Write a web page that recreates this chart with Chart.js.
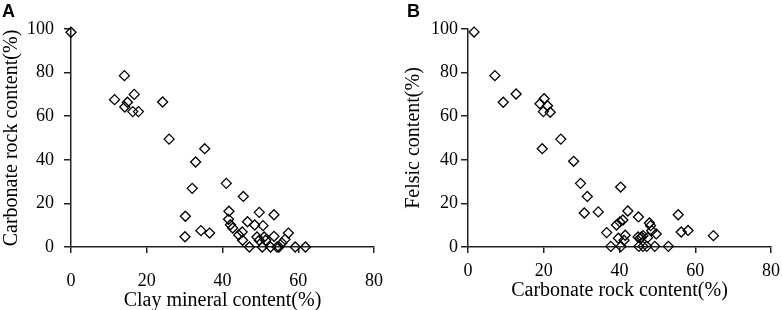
<!DOCTYPE html>
<html>
<head>
<meta charset="utf-8">
<script src="https://cdn.jsdelivr.net/npm/chart.js@4"></script>
<style>
  body { margin: 0; background: #fff; }
  .panel { position: absolute; top: 0; width: 391px; height: 310px; }
  #wrapA { left: 0; }
  #wrapB { left: 391px; }
</style>
</head>
<body>
<div class="panel" id="wrapA"><canvas id="chartA"></canvas></div>
<div class="panel" id="wrapB"><canvas id="chartB"></canvas></div>
<script>
// panel A: clay mineral vs carbonate rock
const clayA = [0, 14.1, 11.5, 16.7, 14.9, 14.2, 16.3, 17.8, 24.2, 25.9, 35.3, 32.9, 32.0, 30.2, 30.1, 34.3, 36.6,
    41.0, 45.5, 41.7, 41.6, 42.1, 42.7, 44.3, 45.2, 45.3, 47.1, 46.6, 48.5, 49.7, 50.7, 49.1, 49.7, 51.0, 50.5,
    51.4, 53.6, 53.6, 52.7, 54.4, 54.9, 55.7, 56.5, 57.4, 59.2, 61.9];
const carbonateA = [98.5, 78.6, 67.6, 70.0, 66.4, 64.2, 62.1, 62.1, 66.5, 49.5, 45.1, 39.0, 26.9, 14.1, 4.7, 7.5, 6.4,
    29.2, 23.2, 16.4, 12.7, 10.2, 8.7, 5.5, 6.9, 3.1, 0, 11.6, 10.1, 15.9, 9.8, 4.6, 3.1, 4.6, 0,
    3.1, 14.8, 4.9, 0, 0, 0, 1.8, 3.5, 6.4, 0, 0];

// panel B: carbonate rock vs felsic
const carbonateB = [1.6, 7.1, 9.3, 12.7, 19.0, 20.1, 21.0, 19.9, 21.7, 19.6, 24.5, 27.9, 29.7, 31.5, 30.7, 34.4, 36.6,
    37.7, 40.3, 42.2, 39.2, 40.1, 40.9, 39.7, 40.4, 41.2, 41.5, 45.0, 44.9, 45.5, 45.8, 46.2, 45.1, 46.2, 47.2,
    47.4, 47.9, 48.2, 48.5, 49.7, 49.3, 52.9, 55.5, 56.3, 58.1, 64.8];
const felsicB = [98.6, 78.6, 66.4, 70.2, 65.7, 68.0, 64.8, 62.1, 61.8, 45.1, 49.5, 39.3, 29.2, 23.2, 15.6, 16.1, 6.6,
    0.3, 27.5, 16.5, 10.1, 11.5, 12.4, 4.0, 0.3, 3.1, 5.4, 13.8, 4.6, 4.0, 4.6, 5.2, 0.3, 0.3, 0.3,
    4.3, 11.0, 9.8, 7.5, 6.0, 0.3, 0.3, 14.8, 6.9, 7.6, 5.2];

const xTicks = [0, 20, 40, 60, 80];
const yTicks = [0, 20, 40, 60, 80, 100];

const serif = 'Liberation Serif';
const axisColor = '#222';

const panelLetter = {
    id: 'panelLetter',
    afterDraw(chart, args, opts) {
        const ctx = chart.ctx;
        ctx.save();
        ctx.font = 'bold 18px "Liberation Sans"';
        ctx.fillStyle = '#000';
        ctx.textBaseline = 'alphabetic';
        ctx.fillText(opts.text, opts.x, 17);
        ctx.restore();
    }
};

function makeChart(id, xs, ys, cfg) {
    const points = xs.map((x, i) => ({ x: x, y: ys[i] }));
    return new Chart(document.getElementById(id), {
        type: 'scatter',
        data: {
            datasets: [{
                data: points,
                pointStyle: 'rectRot',
                pointRadius: 5,
                pointBorderWidth: 1.3,
                pointBorderColor: '#000',
                pointBackgroundColor: 'rgba(0,0,0,0)',
                clip: false
            }]
        },
        options: {
            responsive: true,
            maintainAspectRatio: false,
            animation: false,
            events: [],
            layout: { padding: { top: 29, left: cfg.padLeft, right: cfg.padRight, bottom: 0 } },
            plugins: {
                legend: { display: false },
                tooltip: { enabled: false },
                panelLetter: { text: cfg.letter, x: cfg.letterX }
            },
            scales: {
                x: {
                    type: 'linear',
                    min: 0, max: 80,
                    afterBuildTicks: s => { s.ticks = xTicks.map(v => ({ value: v })); },
                    afterFit: s => { s.height = 63; },
                    border: { display: true, color: axisColor, width: 1.5 },
                    grid: { display: true, drawOnChartArea: false, drawTicks: true, tickLength: 6, color: axisColor, lineWidth: 1.5 },
                    // tall line height pushes labels down without widening the right padding
                    ticks: { color: '#000', padding: 0, font: { family: serif, size: 18, lineHeight: cfg.xTickLH } },
                    title: {
                        display: true, text: cfg.xTitle, color: '#000',
                        padding: { top: 0, bottom: cfg.xTitlePad },
                        font: { family: serif, size: 20 }
                    }
                },
                y: {
                    type: 'linear',
                    min: 0, max: 100,
                    afterBuildTicks: s => { s.ticks = yTicks.map(v => ({ value: v })); },
                    afterFit: s => { s.width = cfg.yWidth; },
                    border: { display: true, color: axisColor, width: 1.5 },
                    grid: { display: true, drawOnChartArea: false, drawTicks: true, tickLength: 7, color: axisColor, lineWidth: 1.5 },
                    ticks: { color: '#000', padding: cfg.yTickPad, font: { family: serif, size: 18 } },
                    title: {
                        display: true, text: cfg.yTitle, color: '#000',
                        padding: { top: 0, bottom: 0 },
                        font: { family: serif, size: 20 }
                    }
                }
            }
        },
        plugins: [panelLetter]
    });
}

makeChart('chartA', clayA, carbonateA, {
    letter: 'A', letterX: 2,
    padLeft: 0, padRight: 17, yWidth: 71,
    xTickLH: 3.1, yTickPad: 10, xTitlePad: -3,
    xTitle: 'Clay mineral content(%)',
    yTitle: 'Carbonate rock content(%)'
});

makeChart('chartB', carbonateB, felsicB, {
    letter: 'B', letterX: 16,
    padLeft: 11, padRight: 11, yWidth: 66,
    xTickLH: 2.05, yTickPad: 3, xTitlePad: 7,
    xTitle: 'Carbonate rock content(%)',
    yTitle: 'Felsic content(%)'
});
</script>
</body>
</html>
